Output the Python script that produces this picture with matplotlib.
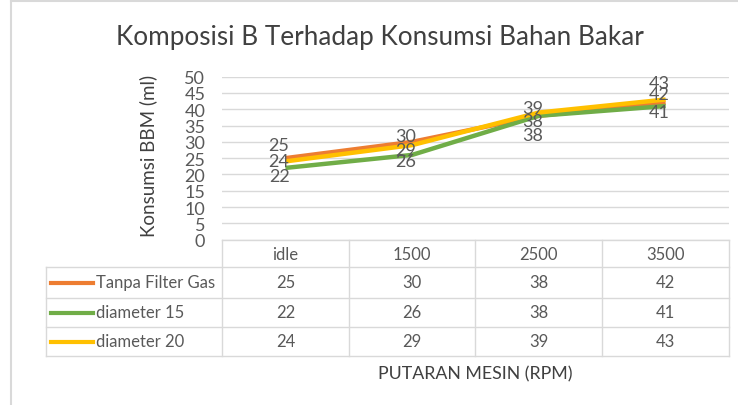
# Konsumsi BBM vs putaran mesin, line chart with data table underneath

import matplotlib.pyplot as plt
from matplotlib.lines import Line2D

plt.rcParams.update({
    "font.family": ["Lato", "DejaVu Sans"],
    "font.size": 12,
})

categories = ["idle", "1500", "2500", "3500"]
series_names = ["Tanpa Filter Gas", "diameter 15", "diameter 20"]
tanpa_filter = [25, 30, 38, 42]
diameter_15 = [22, 26, 38, 41]
diameter_20 = [24, 29, 39, 43]
series_values = [tanpa_filter, diameter_15, diameter_20]

colors = ["#ED7D31", "#70AD47", "#FFC000"]
text_color = "#595959"
grid_color = "#D9D9D9"

# vertical nudges (points) for the data labels, per series / category
label_offsets = [
    [9.4, 4.2, -3.8, 6.3],
    [-5.8, -4.5, -13.9, -4.3],
    [0, -3.6, 3.2, 11.8],
]

W, H = 738, 406
fig = plt.figure(figsize=(W / 100, H / 100), dpi=100)


def fx(px):
    return px / W


def fy(py):
    return 1 - py / H


# plot area in pixel coords
x0, x1 = 222, 729
y_top, y_bot = 77.7, 240.6
ax = fig.add_axes([fx(x0), fy(y_bot), fx(x1 - x0), (y_bot - y_top) / H])

xs = list(range(len(categories)))
for vals, col in zip(series_values, colors):
    ax.plot(xs, vals, color=col, lw=3.2, solid_capstyle="butt", zorder=3)

for vals, offs in zip(series_values, label_offsets):
    for x, v, o in zip(xs, vals, offs):
        ax.annotate(str(v), (x, v), xytext=(-4.5, o), textcoords="offset points",
                    ha="center", va="center", fontsize=13, color=text_color,
                    zorder=4)

ax.set_xlim(-0.5, len(categories) - 0.5)
ax.set_ylim(0, 50)
ax.set_yticks(range(0, 51, 5))
ax.set_xticks([])
ax.grid(axis="y", color=grid_color, lw=1)
ax.tick_params(axis="y", length=0, pad=12, labelcolor=text_color, labelsize=13)
for s in ax.spines.values():
    s.set_visible(False)

# title and axis titles
fig.text(fx(380), fy(38), "Komposisi B Terhadap Konsumsi Bahan Bakar",
         ha="center", va="center", fontsize=18.8, color="#404040")
fig.text(fx(148), fy(156), "Konsumsi BBM (ml)", rotation=90,
         ha="center", va="center", fontsize=13.5, color="#404040")
fig.text(fx(475), fy(374), "PUTARAN MESIN (RPM)",
         ha="center", va="center", fontsize=12.8, color="#404040")

# data table
col_edges = [222, 349, 475, 602, 729]
row_edges = [241, 268, 299, 328, 357]
label_left = 46


def hline(y, xa, xb):
    fig.add_artist(Line2D([fx(xa), fx(xb)], [fy(y), fy(y)], color=grid_color, lw=1))


def vline(x, ya, yb):
    fig.add_artist(Line2D([fx(x), fx(x)], [fy(ya), fy(yb)], color=grid_color, lw=1))


hline(row_edges[0], col_edges[0], col_edges[-1])
for y in row_edges[1:]:
    hline(y, label_left, col_edges[-1])
for x in col_edges:
    vline(x, row_edges[0], row_edges[-1])
vline(label_left, row_edges[1], row_edges[-1])

for i, cat in enumerate(categories):
    cx = (col_edges[i] + col_edges[i + 1]) / 2
    fig.text(fx(cx), fy((row_edges[0] + row_edges[1]) / 2), cat,
             ha="center", va="center", color=text_color)

for r, (name, vals, col) in enumerate(zip(series_names, series_values, colors)):
    cy = (row_edges[r + 1] + row_edges[r + 2]) / 2
    fig.add_artist(Line2D([fx(51), fx(93)], [fy(cy), fy(cy)], color=col, lw=3))
    fig.text(fx(96), fy(cy), name, ha="left", va="center", color=text_color)
    for i, v in enumerate(vals):
        cx = (col_edges[i] + col_edges[i + 1]) / 2
        fig.text(fx(cx), fy(cy), str(v), ha="center", va="center", color=text_color)

# outer frame of the chart area (left and top edges visible)
fig.add_artist(Line2D([fx(11), fx(11)], [fy(2), fy(H)], color=grid_color, lw=1.5))
fig.add_artist(Line2D([fx(11), fx(W)], [fy(2), fy(2)], color=grid_color, lw=1.5))

plt.savefig("out.png", dpi=100)
plt.close()
